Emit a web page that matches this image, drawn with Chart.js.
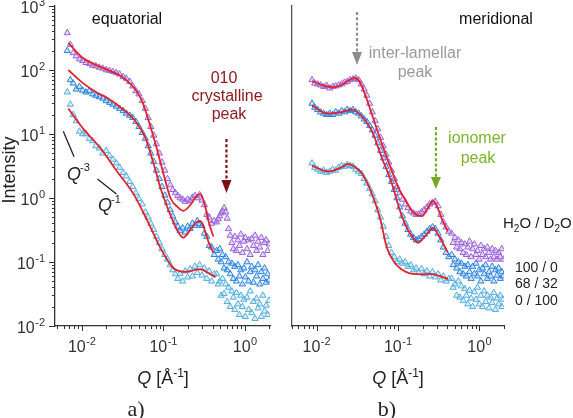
<!DOCTYPE html>
<html><head><meta charset="utf-8">
<script src="https://cdn.jsdelivr.net/npm/chart.js@4.4.1/dist/chart.umd.min.js"></script>
<style>
html,body{margin:0;padding:0;background:#fff;}
#wrap{position:relative;width:573px;height:418px;overflow:hidden;}
canvas{position:absolute;left:0;top:0;}
</style></head><body>
<div id="wrap"><canvas id="eq" width="573" height="418"></canvas><canvas id="mer" width="573" height="418"></canvas></div>
<script>
// ---------- data: equatorial ----------
const qEq = [0.0066,0.0072,0.0078,0.0085,0.0093,0.0102,0.0112,0.0123,0.0135,0.0148,0.0163,0.018,0.0198,0.0218,0.024,0.0264,0.029,0.032,0.035,0.0385,0.042,0.046,0.05,0.055,0.06,0.065,0.07,0.076,0.082,0.089,0.096,0.104,0.112,0.121,0.13,0.14,0.15,0.16,0.172,0.185,0.198,0.212,0.227,0.243,0.26,0.278,0.297,0.318,0.34,0.364,0.39,0.42,
0.45,0.47,0.49,0.51,0.53,0.555,0.58,0.605,0.63,0.66,0.69,0.72,0.75,0.785,0.82,0.855,0.89,0.93,0.97,1.01,1.06,1.11,1.16,1.21,1.27,1.33,1.39,1.45,1.52,1.59,1.66,1.74,1.82,1.9,1.98];
const eq100 = [380,250,185,165,148,140,130,125,118,115,110,106,100,98,94,90,86,78,74,66,56,47,42,33,25,18,13,9.5,7,5,3.6,2.7,2.0,1.6,1.35,1.2,1.08,1.0,0.95,0.88,0.95,0.9,1.02,1.08,1.0,1.12,0.92,0.78,0.55,0.5,0.4,0.44,
0.42,0.47,0.52,0.58,0.62,0.7,0.6,0.48,0.33,0.26,0.2,0.16,0.25,0.15,0.22,0.18,0.27,0.14,0.21,0.24,0.16,0.22,0.13,0.23,0.18,0.26,0.15,0.21,0.17,0.24,0.13,0.2,0.22,0.15,0.19];
const eq68 = [200,70,62,50,55,48,45,47,42,40,38,36,33,31,29,27,25,23,21,19.5,18,15.5,13,10.5,8.5,6.5,5,3.7,2.7,2.0,1.5,1.1,0.85,0.65,0.52,0.42,0.36,0.31,0.34,0.29,0.36,0.33,0.4,0.37,0.44,0.39,0.37,0.28,0.25,0.18,0.17,0.13,
0.15,0.11,0.16,0.1,0.13,0.08,0.12,0.075,0.1,0.065,0.095,0.055,0.085,0.05,0.09,0.06,0.075,0.045,0.08,0.058,0.1,0.05,0.07,0.085,0.048,0.075,0.06,0.09,0.045,0.07,0.055,0.08,0.048,0.065,0.052];
const eq0 = [45,29,20,16,11,10,10,8.5,7.8,6.5,6,5,5.5,4.6,4.0,3.5,3.0,2.5,2.2,1.8,1.5,1.2,0.98,0.8,0.6,0.5,0.4,0.32,0.25,0.2,0.16,0.13,0.11,0.09,0.075,0.065,0.055,0.066,0.05,0.072,0.058,0.078,0.06,0.085,0.068,0.09,0.062,0.08,0.055,0.072,0.05,0.065,
0.065,0.045,0.05,0.03,0.055,0.032,0.045,0.024,0.04,0.02,0.035,0.028,0.018,0.033,0.022,0.015,0.03,0.02,0.026,0.014,0.028,0.018,0.035,0.016,0.024,0.013,0.027,0.019,0.022,0.014,0.03,0.017,0.021,0.015,0.025];
const fitEq100Q = [0.0068,0.0102,0.019,0.031,0.045,0.055,0.065,0.08,0.1,0.122,0.15,0.175,0.214,0.255,0.284,0.32,0.36,0.41];
const fitEq100I = [265,155,105,78,50,32,17,7,2.4,1.0,0.72,0.63,0.78,1.08,1.15,0.8,0.42,0.25];
const fitEq68Q = [0.0068,0.0102,0.015,0.021,0.031,0.045,0.06,0.075,0.092,0.11,0.125,0.15,0.175,0.214,0.255,0.284,0.32,0.36,0.41];
const fitEq68I = [100,63,45,36,25,16,8.7,3.6,1.43,0.75,0.5,0.3,0.24,0.32,0.42,0.44,0.32,0.2,0.14];
const fitEq0Q = [0.0068,0.0104,0.0169,0.027,0.043,0.0636,0.092,0.133,0.197,0.25,0.284,0.35,0.435];
const fitEq0I = [25,12,6,2.6,1.15,0.44,0.165,0.08,0.07,0.076,0.077,0.068,0.058];

// ---------- data: meridional ----------
const qMer = [0.0088,0.0095,0.0103,0.0112,0.0122,0.0133,0.0145,0.0158,0.0172,0.0187,0.0203,0.022,0.0238,0.0258,0.028,0.0303,0.0328,0.0355,0.0384,0.0415,0.0448,0.0484,0.0523,0.0565,0.061,0.066,0.0713,0.077,0.0832,0.09,0.0972,0.105,0.1135,0.1225,0.1325,0.143,0.155,0.167,0.18,0.195,0.21,0.227,0.245,0.265,0.286,0.31,0.335,0.36,0.39,0.42,
0.455,0.475,0.5,0.525,0.55,0.575,0.6,0.63,0.66,0.69,0.72,0.755,0.79,0.825,0.865,0.905,0.945,0.99,1.04,1.09,1.14,1.19,1.25,1.31,1.37,1.43,1.5,1.57,1.64,1.72,1.8,1.88,1.96];
const mer100 = [70,62,60,58,55,57,52,55,56,58,60,64,66,70,72,74,70,60,50,40,30,22,16,12,8.8,6.5,4.8,3.6,2.7,2.0,1.5,1.2,0.95,0.8,0.7,0.62,0.58,0.55,0.56,0.6,0.65,0.72,0.8,0.85,0.88,0.75,0.55,0.42,0.35,0.3,
0.28,0.2,0.24,0.17,0.22,0.16,0.2,0.14,0.19,0.13,0.17,0.21,0.12,0.16,0.19,0.13,0.15,0.11,0.18,0.13,0.16,0.12,0.17,0.14,0.11,0.16,0.12,0.15,0.11,0.14,0.12,0.16,0.11];
const mer68 = [30,26,24,22,21,20,21,20,22,21,23,22,24,23,24,22,21,19,17,15.5,13.5,11.5,9.5,7.2,5.5,4.2,3.1,2.3,1.8,1.35,1.0,0.72,0.52,0.4,0.32,0.27,0.24,0.22,0.23,0.25,0.27,0.3,0.33,0.35,0.33,0.28,0.22,0.17,0.14,0.12,
0.13,0.09,0.11,0.08,0.1,0.07,0.095,0.065,0.085,0.06,0.09,0.07,0.055,0.085,0.065,0.095,0.06,0.075,0.05,0.08,0.065,0.09,0.055,0.07,0.06,0.085,0.05,0.075,0.062,0.08,0.055,0.07,0.06];
const mer0 = [3.5,3.0,2.8,2.6,2.7,2.5,2.6,2.8,2.7,3.0,3.2,3.1,3.3,3.2,3.1,2.8,2.6,2.4,2.0,1.7,1.4,1.15,0.9,0.65,0.5,0.36,0.25,0.18,0.14,0.12,0.1,0.11,0.095,0.1,0.085,0.09,0.075,0.08,0.068,0.078,0.065,0.072,0.06,0.07,0.058,0.065,0.052,0.06,0.05,0.055,
0.055,0.04,0.045,0.03,0.05,0.028,0.042,0.025,0.038,0.03,0.022,0.036,0.027,0.02,0.034,0.026,0.04,0.022,0.03,0.02,0.035,0.024,0.03,0.019,0.028,0.023,0.033,0.018,0.027,0.022,0.03,0.02,0.026];
const fitMer100Q = [0.0088,0.0125,0.0159,0.02,0.0244,0.0297,0.034,0.0417,0.048,0.0636,0.0844,0.105,0.12,0.15,0.197,0.23,0.269,0.3,0.35,0.41];
const fitMer100I = [67,57,54,58,68,75,65,34,20,7,2.6,1.3,1.0,0.62,0.52,0.68,0.9,0.75,0.45,0.3];
const fitMer68Q = [0.0088,0.0135,0.02,0.0277,0.033,0.04,0.048,0.0636,0.0844,0.106,0.13,0.153,0.175,0.22,0.269,0.32,0.41];
const fitMer68I = [28,21,22,24,21,16,11,4.2,1.65,0.63,0.33,0.24,0.2,0.26,0.34,0.25,0.14];
const fitMer0Q = [0.0088,0.0139,0.019,0.0244,0.029,0.0362,0.048,0.06,0.0733,0.09,0.106,0.153,0.2,0.247,0.33,0.41];
const fitMer0I = [3.2,2.6,2.9,3.4,3.1,2.4,1.15,0.49,0.165,0.1,0.08,0.065,0.064,0.065,0.06,0.054];

// ---------- labels / ticks ----------
const seriesLabels = ['100 / 0', '68 / 32', '0 / 100'];
const xTickDecades = [-2, -1, 0];
const yTickDecades = [-2, -1, 0, 1, 2, 3];
const peak010Q = 0.593, interLamQ = 0.0314, ionomerQ = 0.292;

const SANS = '"Liberation Sans", Arial, sans-serif';
const SERIF = '"Liberation Serif", "Times New Roman", serif';
const colors = [
  {line:'#9a63d8', fill:'rgba(170,125,225,0.30)'},
  {line:'#2c82dc', fill:'rgba(60,140,225,0.25)'},
  {line:'#52aedc', fill:'rgba(110,185,225,0.25)'}
];
const FIT = '#e2232e';

function pts(qs, is){ return qs.map((q,i)=>({x:q, y:is[i]})); }
function scatterSet(qs, is, k){
  return {type:'scatter', label:seriesLabels[k], data:pts(qs,is), pointStyle:'triangle', pointRadius:3.6,
    borderWidth:1, borderColor:colors[k].line, backgroundColor:colors[k].fill, order:2, showLine:false};
}
function fitSet(qs, is){
  return {type:'line', label:'fit', data:pts(qs,is), borderColor:FIT, borderWidth:1.8, pointRadius:0,
    cubicInterpolationMode:'monotone', fill:false, order:0};
}

function txt(ctx, s, x, y, font, color, align){
  ctx.save(); ctx.font = font; ctx.fillStyle = color; ctx.textAlign = align || 'left';
  ctx.textBaseline = 'alphabetic'; ctx.fillText(s, x, y); ctx.restore();
}
function drawPow(ctx, x, baseY, exp, mode){
  ctx.save();
  ctx.font = '16px ' + SANS; const w1 = ctx.measureText('10').width;
  ctx.font = '11px ' + SANS; const w2 = ctx.measureText(exp).width;
  const total = w1 + w2 + 0.5;
  const x0 = mode === 'center' ? x - total/2 : x - total;
  ctx.fillStyle = '#333'; ctx.textAlign = 'left'; ctx.textBaseline = 'alphabetic';
  ctx.font = '16px ' + SANS; ctx.fillText('10', x0, baseY);
  ctx.font = '11px ' + SANS; ctx.fillText(exp, x0 + w1 + 0.5, baseY - 7);
  ctx.restore();
}
function drawXTicks(ctx, xs, bottom){
  ctx.save(); ctx.strokeStyle = '#333'; ctx.lineWidth = 1;
  for (let d = -3; d <= 1; d++) for (let k = 1; k <= 9; k++){
    const v = k * Math.pow(10, d);
    if (v < xs.min || v > xs.max) continue;
    const px = Math.round(xs.getPixelForValue(v)) + 0.5;
    const len = k === 1 ? 5 : 3;
    ctx.beginPath(); ctx.moveTo(px, bottom); ctx.lineTo(px, bottom + len); ctx.stroke();
  }
  ctx.restore();
  xTickDecades.forEach(d => drawPow(ctx, xs.getPixelForValue(Math.pow(10, d)), 352, String(d), 'center'));
}
function drawQLabel(ctx, cx, baseY){
  ctx.save(); ctx.fillStyle = '#222'; ctx.textBaseline = 'alphabetic'; ctx.textAlign = 'left';
  const parts = [['Q', 'italic 18px ' + SANS, 0], [' [Å', '18px ' + SANS, 0], ['-1', '12px ' + SANS, -7], [']', '18px ' + SANS, 0]];
  let w = 0; parts.forEach(p => { ctx.font = p[1]; w += ctx.measureText(p[0]).width; });
  let x = cx - w/2;
  parts.forEach(p => { ctx.font = p[1]; ctx.fillText(p[0], x, baseY + p[2]); x += ctx.measureText(p[0]).width; });
  ctx.restore();
}
function arrow(ctx, x, y0, y1, headLen, headW, color){
  ctx.save(); ctx.strokeStyle = color; ctx.lineWidth = 2.2; ctx.setLineDash([3, 2.2]);
  ctx.beginPath(); ctx.moveTo(x, y0); ctx.lineTo(x, y1 - headLen); ctx.stroke();
  ctx.setLineDash([]); ctx.fillStyle = color;
  ctx.beginPath(); ctx.moveTo(x - headW/2, y1 - headLen); ctx.lineTo(x + headW/2, y1 - headLen); ctx.lineTo(x, y1); ctx.closePath(); ctx.fill();
  ctx.restore();
}

const eqDecor = {
  id:'eqDecor',
  afterDraw(chart){
    const ctx = chart.ctx, xs = chart.scales.x, ys = chart.scales.y, a = chart.chartArea;
    drawXTicks(ctx, xs, a.bottom);
    ctx.save(); ctx.strokeStyle = '#333'; ctx.lineWidth = 1;
    for (let d = -2; d <= 3; d++) for (let k = 1; k <= 9; k++){
      const v = k * Math.pow(10, d);
      if (v < ys.min * 0.999 || v > ys.max * 1.001) continue;
      const py = Math.round(ys.getPixelForValue(v)) + 0.5;
      const len = k === 1 ? 6 : 3;
      ctx.beginPath(); ctx.moveTo(a.left - len, py); ctx.lineTo(a.left, py); ctx.stroke();
    }
    ctx.restore();
    yTickDecades.forEach(d => drawPow(ctx, 45, ys.getPixelForValue(Math.pow(10, d)) + 7, String(d), 'right'));
    ctx.save(); ctx.translate(15, 170); ctx.rotate(-Math.PI/2);
    txt(ctx, 'Intensity', 0, 0, '18px ' + SANS, '#222', 'center'); ctx.restore();
    drawQLabel(ctx, 163, 384);
    txt(ctx, 'a)', 136, 416, '22px ' + SERIF, '#222', 'center');
    txt(ctx, 'equatorial', 127, 24, '16px ' + SANS, '#111', 'center');
    const red = '#8e1b22';
    txt(ctx, '010', 224, 83, '16px ' + SANS, red, 'center');
    txt(ctx, 'crystalline', 227, 101, '16px ' + SANS, red, 'center');
    txt(ctx, 'peak', 229, 119, '16px ' + SANS, red, 'center');
    arrow(ctx, xs.getPixelForValue(peak010Q), 139, 193, 13, 10, '#7d1015');
    ctx.save(); ctx.strokeStyle = '#222'; ctx.lineWidth = 1.3;
    ctx.beginPath(); ctx.moveTo(xs.getPixelForValue(0.0059), ys.getPixelForValue(11));
    ctx.lineTo(xs.getPixelForValue(0.0080), ys.getPixelForValue(11 * Math.pow(0.0059/0.0080, 3))); ctx.stroke();
    ctx.beginPath(); ctx.moveTo(xs.getPixelForValue(0.0155), ys.getPixelForValue(1.98));
    ctx.lineTo(xs.getPixelForValue(0.0265), ys.getPixelForValue(1.98 * 0.0155 / 0.0265)); ctx.stroke();
    ctx.restore();
    txt(ctx, 'Q', 67, 180, 'italic 18px ' + SANS, '#222', 'left');
    txt(ctx, '-3', 80, 171, '11px ' + SANS, '#222', 'left');
    txt(ctx, 'Q', 98, 211, 'italic 18px ' + SANS, '#222', 'left');
    txt(ctx, '-1', 111, 203, '11px ' + SANS, '#222', 'left');
  }
};

const merDecor = {
  id:'merDecor',
  afterDraw(chart){
    const ctx = chart.ctx, xs = chart.scales.x, a = chart.chartArea;
    drawXTicks(ctx, xs, a.bottom);
    drawQLabel(ctx, 398, 384);
    txt(ctx, 'b)', 387, 416, '22px ' + SERIF, '#222', 'center');
    txt(ctx, 'meridional', 496, 24, '16px ' + SANS, '#111', 'center');
    const gray = '#9a9a9a';
    txt(ctx, 'inter-lamellar', 415, 58, '16px ' + SANS, gray, 'center');
    txt(ctx, 'peak', 415, 77, '16px ' + SANS, gray, 'center');
    arrow(ctx, xs.getPixelForValue(interLamQ), 12, 65, 13, 10, '#8f8f8f');
    const green = '#7cb52c';
    txt(ctx, 'ionomer', 477, 143, '16px ' + SANS, green, 'center');
    txt(ctx, 'peak', 478, 163, '16px ' + SANS, green, 'center');
    arrow(ctx, xs.getPixelForValue(ionomerQ), 127, 189, 12, 10, '#72ab22');
    ctx.save(); ctx.fillStyle = '#222'; ctx.textBaseline = 'alphabetic'; ctx.textAlign = 'left';
    const parts = [['H', 15, 0], ['2', 10, 4], ['O / D', 15, 0], ['2', 10, 4], ['O', 15, 0]];
    let x = 503;
    parts.forEach(p => { ctx.font = p[1] + 'px ' + SANS; ctx.fillText(p[0], x, 228 + p[2]); x += ctx.measureText(p[0]).width; });
    ctx.restore();
    [272, 288, 305].forEach((y, i) => txt(ctx, seriesLabels[i], 515, y, '14px ' + SANS, '#222', 'left'));
  }
};

function makeChart(id, datasets, xmin, xmax, yWidth, padRight, plugin, yBorderColor){
  return new Chart(document.getElementById(id), {
    type:'scatter',
    data:{datasets},
    options:{
      responsive:false, animation:false, devicePixelRatio:1,
      layout:{padding:{top:6, right:padRight, left:0, bottom:0}},
      plugins:{legend:{display:false}, tooltip:{enabled:false}},
      scales:{
        x:{type:'logarithmic', min:xmin, max:xmax, grid:{display:false}, ticks:{display:false},
           border:{display:true, color:'#333', width:1.3}, afterFit:s => { s.height = 92; }},
        y:{type:'logarithmic', min:0.01, max:1000, grid:{display:false}, ticks:{display:false},
           border:{display:true, color:yBorderColor, width:1.3}, afterFit:s => { s.width = yWidth; }}
      }
    },
    plugins:[plugin]
  });
}

makeChart('eq', [
  fitSet(fitEq100Q, fitEq100I), fitSet(fitEq68Q, fitEq68I), fitSet(fitEq0Q, fitEq0I),
  scatterSet(qEq, eq100, 0), scatterSet(qEq, eq68, 1), scatterSet(qEq, eq0, 2)
], 0.00467, 2.03, 55, 303, eqDecor, '#333');

makeChart('mer', [
  fitSet(fitMer100Q, fitMer100I), fitSet(fitMer68Q, fitMer68I), fitSet(fitMer0Q, fitMer0I),
  scatterSet(qMer, mer100, 0), scatterSet(qMer, mer68, 1), scatterSet(qMer, mer0, 2)
], 0.005, 2.0, 292, 69, merDecor, '#555');
</script>
</body></html>
